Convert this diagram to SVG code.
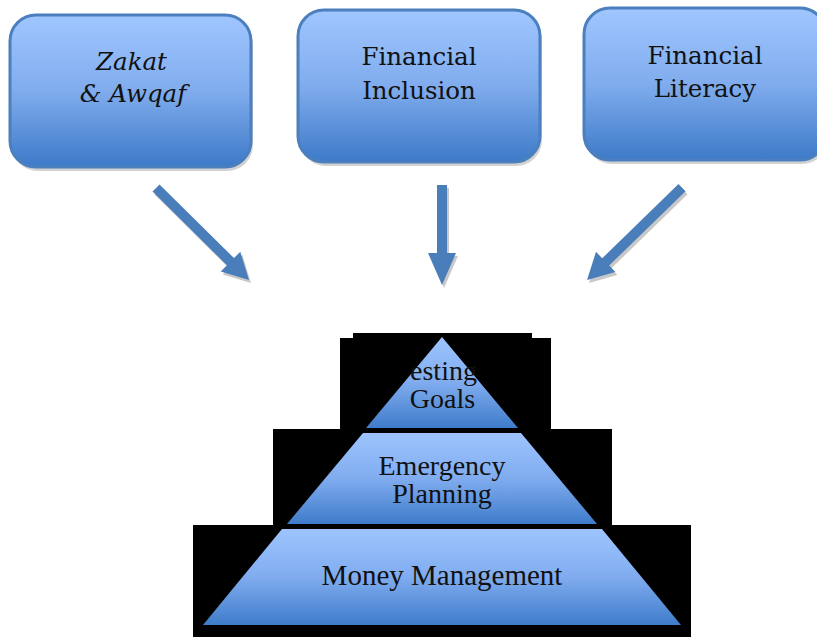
<svg xmlns="http://www.w3.org/2000/svg" xmlns:xlink="http://www.w3.org/1999/xlink" width="817" height="637" viewBox="0 0 817 637">
<defs>
<linearGradient id="boxGrad" x1="0" y1="0" x2="0" y2="1">
<stop offset="0" stop-color="#a0c6ff"/>
<stop offset="0.5" stop-color="#80aced"/>
<stop offset="1" stop-color="#3d7ac8"/>
</linearGradient>
<linearGradient id="pyrGrad" x1="0" y1="0" x2="0" y2="1">
<stop offset="0" stop-color="#9dc4fe"/>
<stop offset="0.5" stop-color="#80acef"/>
<stop offset="1" stop-color="#3f7cca"/>
</linearGradient>
<polygon id="a1" points="152.5,191.6 227,265.3 220.7,271.6 249,280 240.3,251.8 234,258.1 159.5,184.4"/>
<polygon id="a2" points="437,185 447,185 447,253 456,253 442,285 428,253 437,253"/>
<polygon id="a3" points="678.5,184.1 602.2,258.3 596,251.8 587,280 615.4,272 609.2,265.5 685.5,191.3"/>
</defs>
<style>
.box{fill:url(#boxGrad);stroke:#4b7fbd;stroke-width:3}
.shadow{fill:#d2d2d2}
.btxt{font-family:"DejaVu Serif","Liberation Serif",serif;font-size:24.5px;fill:#111;text-anchor:middle}
.it{font-style:italic}
.ptxt{font-family:"Liberation Serif","Times New Roman",serif;font-size:28px;fill:#111;text-anchor:middle}
.big{font-size:29px}
.arrow{fill:#4a7ebb}
.ashadow{fill:#c8c8c8}
.layer{fill:url(#pyrGrad)}
.bg{fill:#000}
</style>
<rect width="817" height="637" fill="#fff"/>

<g id="node-zakat">
<rect class="shadow" x="12" y="19" width="241" height="152" rx="26"/>
<rect class="box" x="10" y="15" width="241" height="152" rx="26"/>
<text class="btxt it" x="131.5" y="70">Zakat</text>
<text class="btxt it" x="133" y="102">&amp; Awqaf</text>
</g>

<g id="node-inclusion">
<rect class="shadow" x="300" y="14" width="242" height="152" rx="26"/>
<rect class="box" x="298" y="10" width="242" height="152" rx="26"/>
<text class="btxt" x="419" y="65">Financial</text>
<text class="btxt" x="419" y="99">Inclusion</text>
</g>

<g id="node-literacy">
<rect class="shadow" x="586" y="12" width="242" height="152" rx="26"/>
<rect class="box" x="584" y="8" width="242" height="152" rx="26"/>
<text class="btxt" x="705" y="64">Financial</text>
<text class="btxt" x="705" y="97">Literacy</text>
</g>

<g id="connectors">
<use xlink:href="#a1" class="ashadow" transform="translate(2,3)"/>
<use xlink:href="#a2" class="ashadow" transform="translate(2,3)"/>
<use xlink:href="#a3" class="ashadow" transform="translate(2,3)"/>
<use xlink:href="#a1" class="arrow"/>
<use xlink:href="#a2" class="arrow"/>
<use xlink:href="#a3" class="arrow"/>
</g>

<g id="pyramid-background">
<rect class="bg" x="353" y="333" width="179" height="6"/>
<rect class="bg" x="340" y="338" width="211" height="92"/>
<rect class="bg" x="273" y="429" width="339" height="97"/>
<rect class="bg" x="193" y="525" width="498" height="112"/>
</g>

<g id="node-goals">
<polygon class="layer" points="442,337 518,428 366,428"/>
<text class="ptxt" x="443.5" y="380">esting</text>
<text class="ptxt" x="442.5" y="408">Goals</text>
</g>

<g id="node-emergency">
<polygon class="layer" points="363,433 521,433 597,524 287,524"/>
<text class="ptxt" x="442" y="475">Emergency</text>
<text class="ptxt" x="442" y="503">Planning</text>
</g>

<g id="node-money">
<polygon class="layer" points="282,529 602,529 681,625 203,625"/>
<text class="ptxt big" x="442" y="585">Money Management</text>
</g>
</svg>
